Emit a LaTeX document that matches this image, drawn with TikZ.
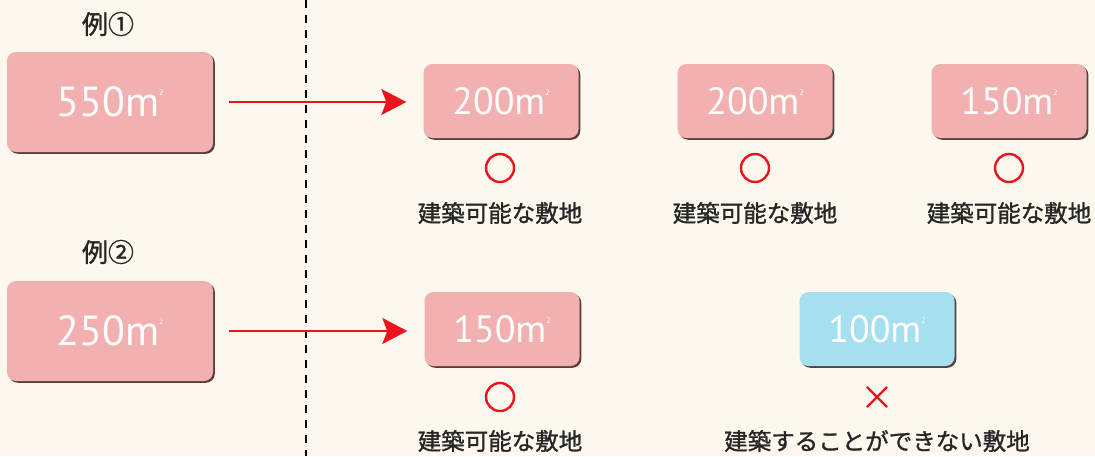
\documentclass[tikz,border=0pt]{standalone}
\usepackage{fontspec}
\usetikzlibrary{shadows,arrows.meta,shapes.misc}
\newfontfamily\jpfont[FakeBold=1.2]{Noto Sans CJK JP}
\newfontfamily\numfont{PT Sans}
\definecolor{bg}{RGB}{253,248,238}
\definecolor{pinkbox}{RGB}{243,176,176}
\definecolor{bluebox}{RGB}{165,223,240}
\definecolor{shad}{RGB}{70,45,40}
\definecolor{okred}{RGB}{235,20,30}
\newcommand{\sqm}[1]{#1m\raisebox{0.5em}{\fontsize{8}{8}\selectfont 2}}
\tikzset{
  area/.style={rounded corners=9pt, fill=pinkbox, text=white, inner sep=0pt,
    drop shadow={shadow xshift=1.8pt, shadow yshift=-1.8pt, fill=shad, opacity=0.9}},
  bigbox/.style={area, minimum width=206pt, minimum height=100pt, font=\numfont\fontsize{42}{42}\selectfont},
  smallbox/.style={area, minimum width=155pt, minimum height=74pt, font=\numfont\fontsize{38}{38}\selectfont},
  okmark/.style={circle, draw=okred, line width=2.4pt, minimum size=28pt, inner sep=0pt},
  ngmark/.style={cross out, draw=okred, line width=2.2pt, minimum size=18pt, inner sep=0pt},
  lbl/.style={font=\jpfont\fontsize{23.5}{23.5}\selectfont, text=black!85, inner sep=0pt},
  ex/.style={font=\jpfont\fontsize{26}{26}\selectfont, text=black!85, inner sep=0pt},
  arr/.style={draw=okred, line width=1.8pt, -{Stealth[length=25pt,width=26pt,inset=5pt]}},
  divider/.style={line width=2pt, dash pattern=on 7.5pt off 7.5pt, black}
}
\begin{document}
\begin{tikzpicture}[x=1pt,y=-1pt]
\fill[bg] (0,0) rectangle (1095,456);
\useasboundingbox (0,0) rectangle (1095,456);
\coordinate (dtop) at (306,0);
\coordinate (dbot) at (306,456);
\draw[divider] (dtop) -- (dbot);

\node[ex] (e1) at (108,24) {例①};
\node[ex] (e2) at (108,252) {例②};

\node[bigbox] (b1) at (110,102) {\sqm{550}};
\node[bigbox] (b2) at (110,331) {\sqm{250}};

\node[smallbox] (s11) at (501,101) {\sqm{200}};
\node[smallbox] (s12) at (755,101) {\sqm{200}};
\node[smallbox] (s13) at (1009,101) {\sqm{150}};
\node[smallbox] (s21) at (502,329) {\sqm{150}};
\node[smallbox, fill=bluebox] (s22) at (877,329) {\sqm{100}};

\node[okmark] (c11) at (500,168) {};
\node[okmark] (c12) at (755,168) {};
\node[okmark] (c13) at (1009,168) {};
\node[okmark] (c21) at (500,397) {};
\node[ngmark] (x22) at (877,397) {};

\node[lbl] (l11) at (500,213) {建築可能な敷地};
\node[lbl] (l12) at (755,213) {建築可能な敷地};
\node[lbl] (l13) at (1009,213) {建築可能な敷地};
\node[lbl] (l21) at (500,441) {建築可能な敷地};
\node[lbl] (l22) at (877,441) {建築することができない敷地};

\draw[arr] ([xshift=16pt]b1.east) -- ([xshift=-17pt]b1.east -| s11.west);
\draw[arr] ([xshift=16pt]b2.east) -- ([xshift=-17pt]b2.east -| s21.west);
\end{tikzpicture}
\end{document}
